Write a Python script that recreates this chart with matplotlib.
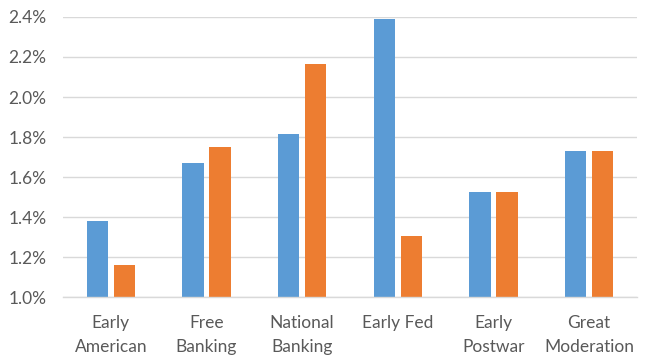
import matplotlib
matplotlib.use("Agg")
import matplotlib.pyplot as plt
import numpy as np
from matplotlib.ticker import FuncFormatter, MultipleLocator

categories = ["Early\nAmerican", "Free\nBanking", "National\nBanking", "Early Fed", "Early\nPostwar", "Great\nModeration"]
series_a = [1.38, 1.67, 1.815, 2.39, 1.525, 1.73]
series_b = [1.16, 1.75, 2.165, 1.305, 1.525, 1.73]

plt.rcParams['font.family'] = ['Lato', 'DejaVu Sans']

fig = plt.figure(figsize=(6.47, 3.63), dpi=100)
ax = fig.add_axes([63/647, 1-297/363, (637-63)/647, (297-17)/363])

x = np.arange(len(categories))
w = 0.22
off = 0.141
ax.bar(x - off, np.array(series_a) - 1.0, bottom=1.0, width=w, color="#5B9BD5", zorder=3)
ax.bar(x + off, np.array(series_b) - 1.0, bottom=1.0, width=w, color="#ED7D31", zorder=3)

ax.set_xlim(-0.5, len(categories) - 0.5)
ax.set_ylim(1.0, 2.4)
ax.yaxis.set_major_locator(MultipleLocator(0.2))
ax.yaxis.set_major_formatter(FuncFormatter(lambda v, p: f"{v:.1f}%"))
ax.grid(axis='y', color="#D9D9D9", linewidth=1.0, zorder=0)
ax.set_axisbelow(True)
for s in ['top', 'right', 'left']:
    ax.spines[s].set_visible(False)
ax.spines['bottom'].set_color("#D9D9D9")
ax.spines['bottom'].set_linewidth(1.0)
ax.spines['bottom'].set_zorder(4)

ax.set_xticks(x)
ax.set_xticklabels(categories, linespacing=1.58)
ax.tick_params(axis='x', length=0, pad=13, labelsize=12.5, labelcolor="#595959")
ax.tick_params(axis='y', length=0, pad=12, labelsize=12.5, labelcolor="#595959")

fig.savefig("out.png", dpi=100)
